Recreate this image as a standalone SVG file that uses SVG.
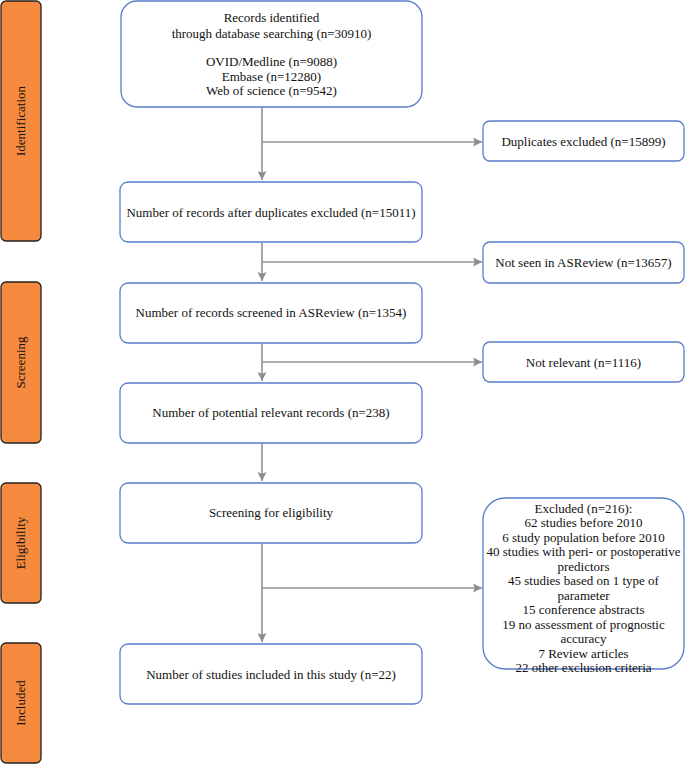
<svg xmlns="http://www.w3.org/2000/svg" width="685" height="765" viewBox="0 0 685 765">
<defs>
<style>
.stage{fill:#F68B3F;stroke:#222;stroke-width:1.3}
.box{fill:#fff;stroke:#5B7BCB;stroke-width:1.3}
.t{font-family:"Liberation Serif","Times New Roman",serif;font-size:13px;fill:#111;text-anchor:middle}
.c{fill:none;stroke:#939393;stroke-width:1.6}
</style>
<marker id="ah" viewBox="0 0 10 10" refX="10" refY="5" markerWidth="9" markerHeight="9" markerUnits="userSpaceOnUse" orient="auto">
<path d="M0,0 L10,5 L0,10 L2,5 z" fill="#8C8C8C"/>
</marker>
</defs>
<rect width="685" height="765" fill="#fff"/>

<g id="stage-identification">
<rect class="stage" x="1" y="1" width="40" height="240" rx="5"/>
<text class="t" transform="translate(25,121) rotate(-90)">Identification</text>
</g>
<g id="stage-screening">
<rect class="stage" x="1" y="282" width="40" height="161" rx="5"/>
<text class="t" transform="translate(25,362.5) rotate(-90)">Screening</text>
</g>
<g id="stage-eligibility">
<rect class="stage" x="1" y="483" width="40" height="120" rx="5"/>
<text class="t" transform="translate(25,543) rotate(-90)">Eligibility</text>
</g>
<g id="stage-included">
<rect class="stage" x="1" y="643" width="40" height="120" rx="5"/>
<text class="t" transform="translate(25,703) rotate(-90)">Included</text>
</g>

<g id="connectors">
<path class="c" d="M262,108 V180" marker-end="url(#ah)"/>
<path class="c" d="M262,142 H482" marker-end="url(#ah)"/>
<path class="c" d="M262,243 V281" marker-end="url(#ah)"/>
<path class="c" d="M262,262 H482" marker-end="url(#ah)"/>
<path class="c" d="M262,344 V381" marker-end="url(#ah)"/>
<path class="c" d="M262,362 H482" marker-end="url(#ah)"/>
<path class="c" d="M262,444 V481" marker-end="url(#ah)"/>
<path class="c" d="M262,544 V642" marker-end="url(#ah)"/>
<path class="c" d="M262,588 H482" marker-end="url(#ah)"/>
</g>

<g id="records-identified">
<rect class="box" x="121" y="1" width="301" height="106" rx="16"/>
<text class="t" x="271.5" y="21.5">Records identified</text>
<text class="t" x="271.5" y="37.5">through database searching (n=30910)</text>
<text class="t" x="271.5" y="66">OVID/Medline (n=9088)</text>
<text class="t" x="271.5" y="81">Embase (n=12280)</text>
<text class="t" x="271.5" y="95">Web of science (n=9542)</text>
</g>

<g id="duplicates-excluded">
<rect class="box" x="483" y="121" width="201" height="40" rx="7"/>
<text class="t" x="583.5" y="145.5">Duplicates excluded (n=15899)</text>
</g>

<g id="after-duplicates">
<rect class="box" x="120" y="182" width="302" height="60" rx="8"/>
<text class="t" x="271" y="216.5">Number of records after duplicates excluded (n=15011)</text>
</g>

<g id="not-seen">
<rect class="box" x="483" y="242" width="201" height="41" rx="7"/>
<text class="t" x="583.5" y="266.5">Not seen in ASReview (n=13657)</text>
</g>

<g id="screened">
<rect class="box" x="120" y="283" width="302" height="60" rx="8"/>
<text class="t" x="271" y="316.5">Number of records screened in ASReview (n=1354)</text>
</g>

<g id="not-relevant">
<rect class="box" x="483" y="342" width="201" height="40" rx="7"/>
<text class="t" x="583.5" y="366.5">Not relevant (n=1116)</text>
</g>

<g id="potential-relevant">
<rect class="box" x="120" y="383" width="302" height="60" rx="8"/>
<text class="t" x="271" y="416.5">Number of potential relevant records (n=238)</text>
</g>

<g id="eligibility">
<rect class="box" x="120" y="483" width="302" height="60" rx="8"/>
<text class="t" x="271" y="516.5">Screening for eligibility</text>
</g>

<g id="excluded">
<rect class="box" x="483" y="498" width="201" height="171" rx="22"/>
<text class="t" x="583.5" y="512.5">Excluded (n=216):</text>
<text class="t" x="583.5" y="527">62 studies before 2010</text>
<text class="t" x="583.5" y="541.5">6 study population before 2010</text>
<text class="t" x="583.5" y="556">40 studies with peri- or postoperative</text>
<text class="t" x="583.5" y="570.5">predictors</text>
<text class="t" x="583.5" y="585">45 studies based on 1 type of</text>
<text class="t" x="583.5" y="599.5">parameter</text>
<text class="t" x="583.5" y="614">15 conference abstracts</text>
<text class="t" x="583.5" y="628.5">19 no assessment of prognostic</text>
<text class="t" x="583.5" y="643">accuracy</text>
<text class="t" x="583.5" y="657.5">7 Review articles</text>
<text class="t" x="583.5" y="672">22 other exclusion criteria</text>
</g>

<g id="included">
<rect class="box" x="120" y="644" width="302" height="60" rx="8"/>
<text class="t" x="271" y="678.5">Number of studies included in this study (n=22)</text>
</g>
</svg>
